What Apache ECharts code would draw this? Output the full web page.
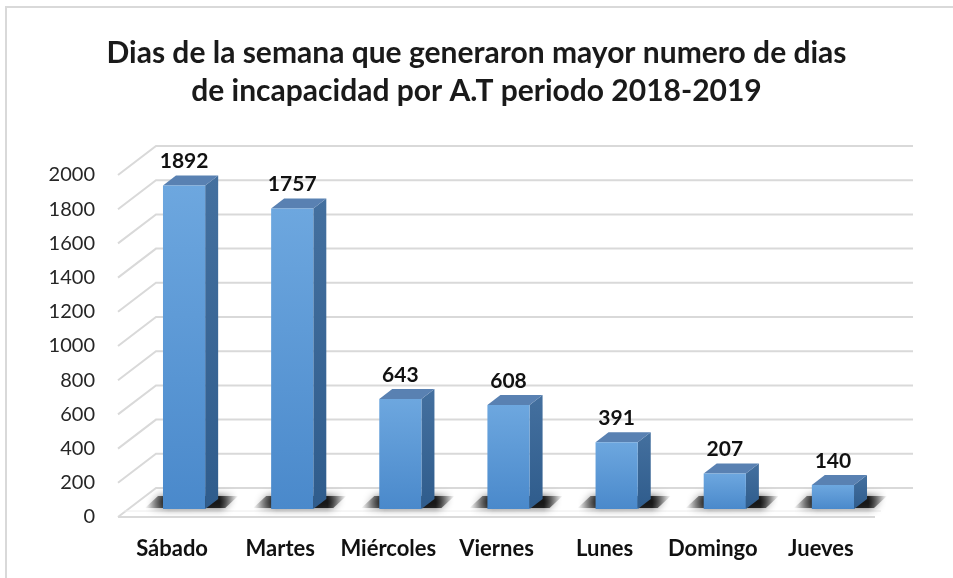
<!doctype html>
<html lang="es">
<head>
	<meta charset="utf-8" />
	<title>Dias de incapacidad</title>
	<script src="https://cdn.jsdelivr.net/npm/echarts@6/dist/echarts.min.js"></script>
	<style>
		html, body { margin: 0; padding: 0; background: #fff; }
		#chart { width: 953px; height: 578px; }
	</style>
</head>
<body>
	<div id="chart"></div>
	<script>
		// data
		const dias = ['Sábado', 'Martes', 'Miércoles', 'Viernes', 'Lunes', 'Domingo', 'Jueves'];
		const incapacidad = [1892, 1757, 643, 608, 391, 207, 140];
		const ticks = [0, 200, 400, 600, 800, 1000, 1200, 1400, 1600, 1800, 2000];

		const font = 'Lato, "Open Sans", sans-serif';
		// perspective offsets (back wall / bar plane)
		const wallDx = 38, wallDy = -29;
		const barDx = 12, barDy = -8;
		const depthDx = 13, depthDy = -10;

		const chart = echarts.init(document.getElementById('chart'));

		// back wall grid lines + floor
		function renderGrid(params, api) {
			const cs = params.coordSys;
			const v = api.value(1);
			const y = api.coord([0, v])[1];
			const x0 = cs.x, x1 = cs.x + cs.width;
			const children = [{
				type: 'polyline',
				shape: { points: [[x0, y], [x0 + wallDx, y + wallDy], [x1 + wallDx, y + wallDy]] },
				style: { stroke: '#d9d9d9', lineWidth: 2, fill: null }
			}];
			if (v === 0) {
				children.push({
					type: 'polyline',
					shape: { points: [[x0, y], [x1, y]] },
					style: { stroke: '#d9d9d9', lineWidth: 2, fill: null }
				}, {
					type: 'polyline',
					shape: { points: [[x0 + 6, y - 6], [x1 + 6, y - 6]] },
					style: { stroke: '#ececec', lineWidth: 1, fill: null }
				});
			}
			return { type: 'group', children: children };
		}

		function renderBar(params, api) {
			const i = api.value(0);
			const v = api.value(1);
			const base = api.coord([i, 0]);
			const top = api.coord([i, v]);
			const band = api.size([1, 0])[0];
			const w = band * 0.39;
			const cx = base[0] + barDx;
			const xl = cx - w / 2, xr = cx + w / 2;
			const yb = base[1] + barDy, yt = top[1] + barDy;
			return {
				type: 'group',
				children: [
					{
						type: 'polygon',
						shape: { points: [[xl - 18, yb - 1], [xl - 5, yb - 13], [xr + depthDx + 20, yb - 13], [xr + depthDx + 7, yb - 1]] },
						style: {
							fill: new echarts.graphic.LinearGradient(0, 0, 1, 0, [
								{ offset: 0, color: 'rgba(0,0,0,0)' },
								{ offset: 0.25, color: 'rgba(0,0,0,0.85)' },
								{ offset: 0.8, color: 'rgba(0,0,0,0.8)' },
								{ offset: 1, color: 'rgba(0,0,0,0)' }
							]),
							shadowBlur: 8,
							shadowColor: 'rgba(0,0,0,0.8)'
						}
					},
					{
						type: 'polygon',
						shape: { points: [[xr, yb], [xr + depthDx, yb + depthDy], [xr + depthDx, yt + depthDy], [xr, yt]] },
						style: {
							fill: new echarts.graphic.LinearGradient(0, 0, 0, 1, [
								{ offset: 0, color: '#44709f' },
								{ offset: 1, color: '#2f5c8c' }
							])
						}
					},
					{
						type: 'polygon',
						shape: { points: [[xl, yt], [xl + depthDx, yt + depthDy], [xr + depthDx, yt + depthDy], [xr, yt]] },
						style: { fill: '#5981b2' }
					},
					{
						type: 'rect',
						shape: { x: xl, y: yt, width: w, height: yb - yt },
						style: {
							fill: new echarts.graphic.LinearGradient(0, 0, 0, 1, [
								{ offset: 0, color: '#6da7df' },
								{ offset: 1, color: '#4a89cb' }
							])
						}
					},
					{
						type: 'text',
						x: cx,
						y: yt - 24,
						style: {
							text: String(v),
							fontFamily: font,
							fontWeight: 'bold',
							fontSize: 21,
							fill: '#111',
							align: 'center',
							verticalAlign: 'middle'
						}
					}
				]
			};
		}

		chart.setOption({
			animation: false,
			title: {
				text: 'Dias de la semana que generaron mayor numero de dias\nde incapacidad por A.T periodo 2018-2019',
				left: 'center',
				top: 29,
				textStyle: {
					fontFamily: font,
					fontWeight: 'bold',
					fontSize: 30,
					lineHeight: 38,
					color: '#1a1a1a'
				}
			},
			graphic: [{
				type: 'rect',
				shape: { x: 6, y: 7, width: 1000, height: 1000 },
				style: { fill: null, stroke: '#d9d9d9', lineWidth: 2 },
				z: 100
			}],
			grid: { left: 118, right: 78, top: 175, bottom: 61 },
			xAxis: {
				type: 'category',
				data: dias,
				axisLine: { show: false },
				axisTick: { show: false },
				axisLabel: {
					interval: 0,
					margin: 21,
					fontFamily: font,
					fontWeight: 'bold',
					fontSize: 22,
					color: '#111'
				}
			},
			yAxis: {
				type: 'value',
				min: 0,
				max: 2000,
				interval: 200,
				splitLine: { show: false },
				axisLine: { show: false },
				axisTick: { show: false },
				axisLabel: {
					margin: 23,
					fontFamily: font,
					fontSize: 20,
					color: '#262626',
					formatter: v => String(v)
				}
			},
			series: [
				{
					type: 'custom',
					renderItem: renderGrid,
					data: ticks.map(t => [0, t]),
					z: 1,
					silent: true
				},
				{
					type: 'custom',
					renderItem: renderBar,
					data: incapacidad.map((v, i) => [i, v]),
					z: 2
				}
			]
		});
	</script>
</body>
</html>
